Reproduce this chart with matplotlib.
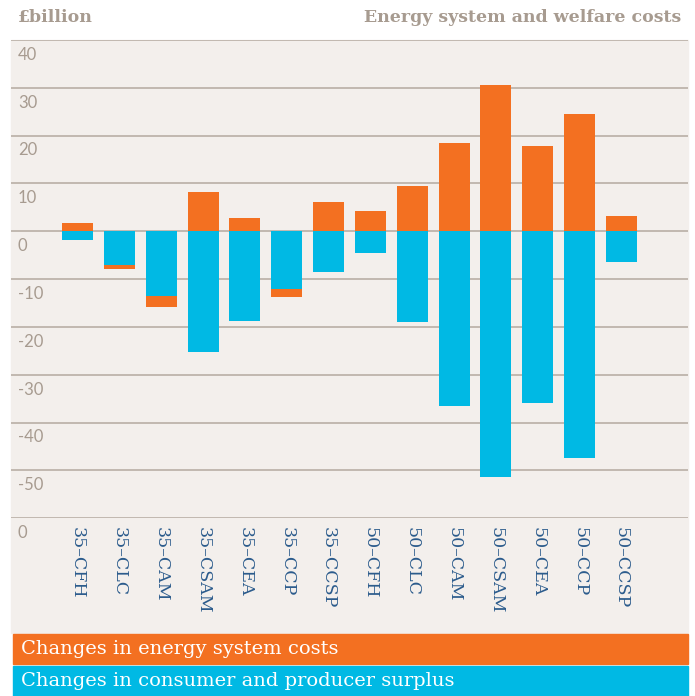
import numpy as np
import matplotlib.pyplot as plt
from matplotlib.patches import Rectangle
from matplotlib.transforms import blended_transform_factory

# --- Data ---
scenarios = ["35–CFH", "35–CLC", "35–CAM", "35–CSAM", "35–CEA", "35–CCP", "35–CCSP",
             "50–CFH", "50–CLC", "50–CAM", "50–CSAM", "50–CEA", "50–CCP", "50–CCSP"]
energy_costs = [1.7, -0.8, -2.3, 8.2, 2.7, -1.6, 6.1, 4.2, 9.4, 18.4, 30.5, 17.8, 24.5, 3.3]
surplus = [-1.8, -7.1, -13.5, -25.3, -18.8, -12.1, -8.5, -4.5, -19.0, -36.5, -51.4, -35.9, -47.4, -6.4]
grid_values = [40, 30, 20, 10, 0, -10, -20, -30, -40, -50, -60]
grid_labels = ["40", "30", "20", "10", "0", "-10", "-20", "-30", "-40", "-50", "0"]

ORANGE = "#f37021"
BLUE = "#00b9e4"
PANEL = "#f3efec"
GRID = "#b9afa6"
GREY_TXT = "#a79b90"
NAVY = "#2b5b8c"

W, H = 695, 696
fig = plt.figure(figsize=(W / 100, H / 100), dpi=100)

def fx(px):
    return px / W

def fy(py):
    return 1 - py / H

# panel background behind the chart and the labels
fig.patches.append(Rectangle((fx(11), fy(633)), fx(688) - fx(11), fy(40) - fy(633),
                             transform=fig.transFigure, color=PANEL, zorder=-5))

ax = fig.add_axes([fx(11), fy(518.3), fx(688) - fx(11), fy(40) - fy(518.3)])
ax.patch.set_alpha(0)
ax.set_zorder(5)

x = np.arange(len(scenarios))
energy = np.array(energy_costs)
surp = np.array(surplus)
orange_bottom = np.where(energy < 0, surp, 0)

ax.bar(x, surp, width=0.74, color=BLUE, zorder=3)
ax.bar(x, energy, bottom=orange_bottom, width=0.74, color=ORANGE, zorder=3)

for v in grid_values:
    ax.axhline(v, color=GRID, lw=1.2, zorder=1)

ax.set_xlim(-1.59, 14.59)
ax.set_ylim(-60, 40)
ax.set_xticks([])
ax.set_yticks([])
for s in ax.spines.values():
    s.set_visible(False)

# y labels sit inside the panel, just below each gridline
tr = blended_transform_factory(ax.transAxes, ax.transData)
for v, lab in zip(grid_values, grid_labels):
    ax.text(7 / 677, v - 1.4, lab, transform=tr, ha="left", va="top",
            fontsize=12, family="Lato", color=GREY_TXT, clip_on=False)

# category labels, rotated downward
for i, lab in enumerate(scenarios):
    ax.text(i, -61.8, lab, rotation=-90, ha="center", va="top",
            fontsize=12.5, family="DejaVu Serif", color=NAVY, clip_on=False)

# titles
fig.text(fx(18), fy(18), "£billion", ha="left", va="center",
         fontsize=12.5, family="DejaVu Serif", weight="bold", color=GREY_TXT)
fig.text(fx(681), fy(18), "Energy system and welfare costs", ha="right", va="center",
         fontsize=12.5, family="DejaVu Serif", weight="bold", color=GREY_TXT)

# legend bands
fig.patches.append(Rectangle((fx(13), fy(664)), fx(688) - fx(13), fy(634) - fy(664),
                             transform=fig.transFigure, color=ORANGE))
fig.patches.append(Rectangle((fx(13), fy(696)), fx(688) - fx(13), fy(666) - fy(696),
                             transform=fig.transFigure, color=BLUE))
fig.text(fx(21), fy(649), "Changes in energy system costs", ha="left", va="center",
         fontsize=14, family="DejaVu Serif", color="white")
fig.text(fx(21), fy(681), "Changes in consumer and producer surplus", ha="left", va="center",
         fontsize=14, family="DejaVu Serif", color="white")

fig.savefig("out.png", dpi=100, facecolor="white")
